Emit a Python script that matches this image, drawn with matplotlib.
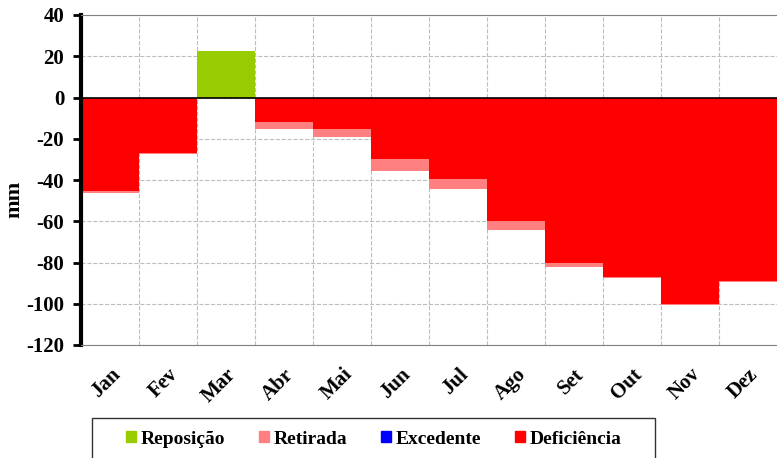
import numpy as np
import matplotlib.pyplot as plt
from matplotlib.patches import Patch, Rectangle

# monthly water balance (mm)
meses = ['Jan', 'Fev', 'Mar', 'Abr', 'Mai', 'Jun', 'Jul', 'Ago', 'Set', 'Out', 'Nov', 'Dez']
reposicao = [0, 0, 22.5, 0, 0, 0, 0, 0, 0, 0, 0, 0]
deficiencia = [-45.3, -26.8, 0, -12.0, -15.3, -30.0, -39.7, -60.0, -80.0, -87.0, -100.3, -89.0]
retirada = [-0.8, -0.7, 0, -3.3, -3.7, -5.5, -4.8, -4.0, -2.0, -0.4, -0.2, -0.6]
excedente = [0, 0, 0, 0, 0, 0, 0, 0, 0, 0, 0, 0]

c_rep = '#99cc00'
c_ret = '#ff8080'
c_exc = '#0000ff'
c_def = '#ff0000'

plt.rcParams['font.family'] = 'Liberation Serif'
plt.rcParams['font.weight'] = 'bold'
plt.rcParams['axes.unicode_minus'] = False

W, H = 777, 458
fig = plt.figure(figsize=(W / 100, H / 100), dpi=100)
ax = fig.add_axes([81 / W, 1 - 345 / H, 696 / W, 330 / H])

x = np.arange(len(meses))
ax.bar(x, reposicao, width=1.0, color=c_rep, zorder=2)
ax.bar(x, excedente, width=1.0, color=c_exc, zorder=2)
ax.bar(x, deficiencia, width=1.0, color=c_def, zorder=2)
ax.bar(x, retirada, width=1.0, bottom=deficiencia, color=c_ret, zorder=2)

ax.axhline(0, color='black', lw=1.2, zorder=3)

ax.set_xlim(-0.5, len(meses) - 0.5)
ax.set_ylim(-120, 40)
ax.set_yticks(np.arange(-120, 41, 20))
ax.set_xticks(x)
ax.set_xticklabels(meses, rotation=45, ha='right', rotation_mode='anchor', fontsize=15)
ax.tick_params(axis='x', length=0, pad=14)
ax.tick_params(axis='y', labelsize=15, width=2, length=6, direction='out', pad=6)

# grid on category boundaries
for b in np.arange(0.5, len(meses) - 0.5, 1):
    ax.axvline(b, color='#bdbdbd', lw=0.8, ls='--', zorder=1)
ax.yaxis.grid(True, color='#bdbdbd', lw=0.8, ls='--', zorder=1)
ax.set_axisbelow(True)

ax.spines['left'].set_linewidth(3)
ax.spines['top'].set_color('#808080')
ax.spines['right'].set_visible(False)
ax.spines['bottom'].set_color('#808080')

fig.text(14 / W, 1 - 199 / H, 'mm', rotation=90, fontsize=16, fontweight='bold',
         ha='center', va='center')

# legend box
fig.patches.append(Rectangle((92 / W, -0.05), (655 - 92) / W, 0.05 + (458 - 418) / H,
                             transform=fig.transFigure, fill=False,
                             edgecolor='#333333', lw=1.0))
handles = [Patch(color=c_rep, label='Reposição'),
           Patch(color=c_ret, label='Retirada'),
           Patch(color=c_exc, label='Excedente'),
           Patch(color=c_def, label='Deficiência')]
fig.legend(handles=handles, loc='center left', bbox_to_anchor=(126 / W, 1 - 439 / H),
           ncol=4, fontsize=14, frameon=False, borderpad=0, borderaxespad=0,
           handlelength=0.5, handleheight=0.5, handletextpad=0.25,
           columnspacing=1.75)

fig.savefig('out.png', dpi=100)
